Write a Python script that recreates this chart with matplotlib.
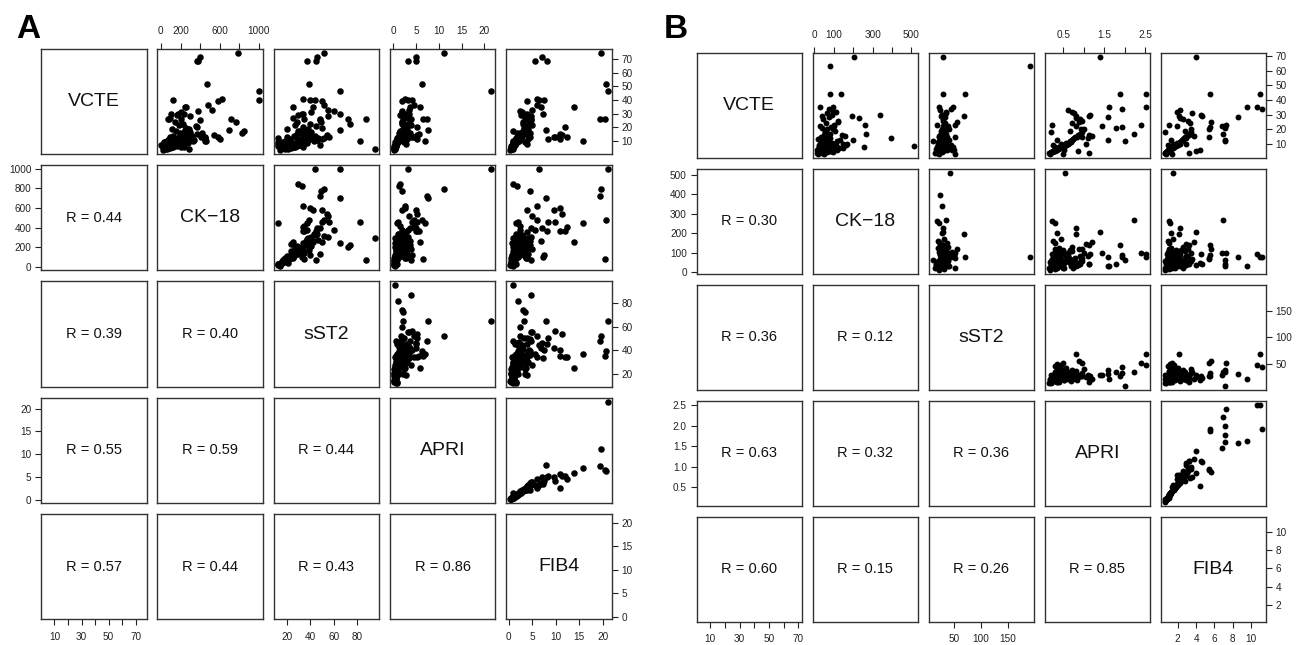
import matplotlib
matplotlib.use("Agg")
import matplotlib.pyplot as plt
import numpy as np

plt.rcParams['font.family'] = ['Liberation Sans', 'DejaVu Sans']

W, H = 1298, 645
nan = np.nan

names = ['VCTE', 'CK\u221218', 'sST2', 'APRI', 'FIB4']

# ---------------- panel A data (one entry per patient) ----------------
vcte_a = [47, 52, 75, 69, 72, 69, 40, 41, 40, 35, 26, 26, 17, 16, 24, 13, 11, 13, 4, 26,
          10, 18, 14, 15, 20, 10, 13, 11, 30, 33, 36, 39, 26, 22, 12, 35, 32, 30,
          5.2, 6.1, 4.3, 7.5, 8.8, 9.5, 3.0, 11.2, 12.5, 6.8,
          14.0, 5.5, 7.9, 10.4, 4.8, 16.5, 8.2, 6.4, 9.1, 13.3,
          5.9, 7.1, 18.2, 10.9, 4.1, 12.0, 8.6, 6.0, 15.4, 9.8,
          5.0, 7.3, 11.8, 20.5, 6.6, 8.0, 4.5, 13.8, 9.3, 5.7,
          22.4, 7.7, 10.1, 3.9, 12.9, 6.9, 17.3, 8.4, 5.3, 11.5,
          19.0, 7.0, 9.6, 14.7, 6.2, 10.6, 4.7, 25.0, 8.9, 13.0,
          21.5, 16.0, 11.0, 7.6, 28.0, 9.0, 6.3, 12.2, 18.8, 5.1,
          30.0, 23.5, 27.0, 8.7, 15.9, 10.3, 6.7, 19.6, 31.0, 29.0]
ck18_a = [1000, 475, 790, 380, 395, 370, 1000, 620, 120, 250, 720, 80, 845, 830, 770, 410, 600, 580, 290, 70,
          460, 700, 540, 370, 370, 450, 455, 455, 100, 520, 480, 580, 200, 220, 450, 260, 380, 240,
          45, 80, 30, 120, 150, 60, 20, 210, 180, 95,
          260, 110, 70, 140, 55, 300, 230, 160, 40, 320,
          15, 190, 250, 85, 65, 270, 130, 35, 195, 105,
          240, 25, 170, 360, 75, 280, 90, 125, 205, 50,
          230, 145, 330, 40, 95, 185, 155, 60, 125, 250,
          290, 3, 175, 215, 100, 340, 70, 400, 115, 265,
          180, 225, 135, 85, 300, 160, 45, 310, 110, 200,
          170, 140, 90, 30, 420, 70, 130, 255, 210, 160]
sst2_a = [65, 39, 52, 37, 46, 45, 44, 34, 40, 25, 48, 35, 30, 33, 49, 34, 40, 42, 95, 87,
          82, 65, 54, 35, 34, 37, 56, 50, 33, 55, 52, 50, 72, 74, 12.3, 42, 60, 65,
          18, 22, 15, 25, 30, 19, 14, 35, 28, 21,
          38, 26, 17, 33, 20, 41, 24, 29, 16, 44,
          13, 31, 36, 23, 19, 47, 27, 15, 32, 22,
          34, 12.3, 39, 45, 18, 37, 24, 26, 30, 17,
          40, 35, 43, 21, 20, 28, 31, 16, 25, 42,
          38, 14, 33, 29, 23, 46, 18, 48, 22, 36,
          27, 39, 30, 19, 55, 24, 16, 52, 20, 27,
          34, 29, 25, 13, 35, 45, 48, 50, 41, 30]
apri_a = [21.6, 6.2, 11.2, 3.3, 4.9, 4.9, 3.2, 2.5, 4.0, 5.8, 7.5, 6.5, 1.5, 1.3, 2.0, 4.6, 2.6, 5.0, 0.45, 3.8,
          1.0, 7.7, 5.1, 5.6, 5.1, 7.0, 4.0, 5.2, 3.4, 3.5, 4.5, 2.0, 2.2, 1.8, 0.8, 3.6, 1.8, 2.1,
          0.3, 0.4, 0.2, 0.6, 0.8, 0.5, 0.1, 1.2, 1.0, 0.45,
          1.6, 0.35, 0.55, 0.9, 0.25, 2.1, 0.7, 0.5, 0.4, 1.9,
          0.2, 0.65, 2.4, 0.85, 0.3, 1.4, 0.75, 0.3, 1.7, 0.95,
          0.4, 0.5, 1.3, 2.8, 0.45, 0.9, 0.25, 1.5, 1.1, 0.35,
          3.2, 0.6, 1.35, 0.2, 1.2, 0.55, 2.0, 0.65, 0.3, 1.8,
          3.0, 0.4, 0.8, 2.5, 0.5, 1.0, 0.25, 3.6, 0.7, 3.4,
          3.9, 3.7, 3.1, 2.7, 3.3, 2.3, 0.6, 1.6, 2.2, 0.45,
          2.9, 1.9, 2.6, 0.8, 1.4, 0.7, 0.5, 2.3, 2.0, 1.5]
fib4_a = [21.1, 20.8, 19.7, 5.5, 7.0, 8.1, 6.5, 6.0, 7.5, 13.8, 19.5, 20.6, 1.0, 1.8, 4.5, 12.4, 11.0, 9.6, 0.9, 4.8,
          2.0, 7.9, 11.3, 10.9, 12.0, 15.9, 9.8, 8.4, 7.4, 5.0, 6.0, 4.0, 3.5, 3.0, 1.5, 6.8, 2.5, 3.2,
          0.6, 0.9, 0.5, 1.1, 1.4, 1.0, 0.3, 1.9, 1.7, 0.8,
          2.4, 0.7, 1.2, 1.6, 0.55, 3.0, 1.3, 0.95, 0.85, 2.8,
          0.45, 1.25, 3.3, 1.5, 0.65, 2.2, 1.35, 0.6, 2.6, 1.75,
          0.8, 1.0, 2.0, 3.9, 0.9, 1.5, 0.5, 2.3, 1.8, 0.75,
          4.4, 1.15, 2.1, 0.5, 2.0, 1.05, 3.1, 1.2, 0.7, 2.7,
          4.1, 0.85, 1.45, 3.6, 0.95, 1.6, 0.6, 4.8, 1.3, 4.6,
          4.9, 4.5, 4.2, 3.8, 4.7, 3.4, 1.1, 2.5, 3.5, 0.9,
          4.0, 3.0, 3.7, 1.6, 2.4, 1.4, 1.0, 3.2, 2.9, 2.6]
r_a = {(1, 0): '0.44', (2, 0): '0.39', (2, 1): '0.40', (3, 0): '0.55', (3, 1): '0.59',
       (3, 2): '0.44', (4, 0): '0.57', (4, 1): '0.44', (4, 2): '0.43', (4, 3): '0.86'}

# ---------------- panel B data ----------------
vcte_b = [69.6, 63, 43.8, 43.8, 35, 35, 34, 29.6, 14, 8.5,
          17, 27.4, 23, 29, 23, 12, 21, 21.5, 12.5, 28.5,
          22.5, 32, 30, 29, 8, 9, 10, 4, 15, 18,
          3.3, 25, 20, 6, 5, 14, 16,
          4.5, 6.0, 5.2, 7.8, 3.8, 9.5, 5.5, 11.0, 6.8, 8.2,
          4.2, 13.0, 7.0, 5.8, 9.0, 3.3, 10.2, 6.3, 14.5, 8.7,
          5.0, 7.3, 12.0, 4.8, 9.8, 6.6, 16.0, 5.3, 8.0, 11.5,
          7.6, 4.0, 10.6, 6.1, 13.8, 5.7, 9.2, 7.1, 18.0, 4.6,
          8.4, 12.5, 6.4, 9.9, 5.6, 15.0, 7.4, 4.4, 10.8, 6.9,
          20.0, 5.9, 8.9, 11.3, 6.2, 13.5, 7.9, 4.9, 16.8, 9.4,
          5.4, 24.0, 19.0, 27.0, 33.0, 22.0, 26.0, 31.0, 15.5, 10.0,
          12.8, 7.2]
ck18_b = [205, 79, 138, 79, 30, 95, 75, 340, 394, 512,
          268, 229, 260, 193, 100, 60, 40, 85, 30, 75,
          100, 110, 90, 40, 253, 160, 145, 40, 70, 55,
          18, 120, 65, 45, 35, 80, 140,
          35, 60, 90, 45, 20, 110, 75, 55, 30, 95,
          65, 40, 125, 15, 80, 50, 100, 38, 70, 25,
          85, 58, 115, 42, 68, 105, 48, 28, 88, 33,
          72, 11, 92, 52, 62, 118, 22, 78, 55, 95,
          40, 130, 18, 66, 102, 36, 84, 46, 74, 26,
          98, 56, 112, 44, 88, 20, 64, 32, 82, 50,
          76, 60, 108, 42, 88, 30, 120, 66, 155, 170,
          200, 148]
sst2_b = [30, 191, 29, 70, 22, 48, 45, 27, 24.5, 41.6,
          35, 30, 18, 69, 52, 10, 35, 33, 40, 32,
          30, 34, 28, 25, 22, 20, 26, 18, 52, 30,
          52, 56, 28, 20, 26, 30, 24,
          20, 25, 30, 18, 15, 33, 28, 22, 35, 40,
          24, 27, 19, 31, 44, 21, 26, 17, 36, 23,
          29, 38, 25, 16, 32, 21, 30, 26, 48, 19,
          34, 22, 27, 37, 24, 29, 20, 42, 33, 23,
          28, 39, 18, 25, 46, 21, 31, 27, 35, 24,
          41, 19, 30, 26, 50, 23, 36, 20, 28, 34,
          25, 32, 26, 30, 24, 38, 29, 35, 22, 31,
          27, 36]
apri_b = [1.39, nan, 1.88, 2.52, 1.62, 2.51, 1.92, nan, nan, 0.54,
          2.22, 0.8, 0.23, 0.8, 2.4, 2.0, 1.78, 1.92, 1.6, 1.58,
          1.45, 0.7, 1.15, 1.12, 0.3, 0.25, 1.04, 1.13, 0.95, 0.2,
          0.5, 0.87, 0.93, 0.52, 0.85, 1.1, 1.13,
          0.2, 0.3, 0.25, 0.4, 0.14, 0.5, 0.28, 0.6, 0.35, 0.45,
          0.22, 0.7, 0.38, 0.3, 0.55, 0.18, 0.62, 0.33, 0.78, 0.48,
          0.26, 0.42, 0.65, 0.2, 0.58, 0.36, 0.85, 0.27, 0.44, 0.68,
          0.4, 0.16, 0.57, 0.31, 0.75, 0.29, 0.52, 0.39, 0.95, 0.23,
          0.47, 0.72, 0.34, 0.6, 0.28, 0.82, 0.41, 0.21, 0.63, 0.37,
          1.0, 0.32, 0.5, 0.66, 0.35, 0.74, 0.46, 0.24, 0.9, 0.54,
          0.27, 0.72, 0.66, 0.9, 0.6, 0.8, 0.96, 0.75, 1.2, 0.45,
          0.35, 0.3]
fib4_b = [3.99, nan, 5.55, 11.0, 9.55, 10.6, 11.2, nan, nan, 1.5,
          6.98, 2.3, 1.07, 2.1, 7.3, 7.1, 7.1, 5.5, 7.1, 8.6,
          6.8, 1.87, 4.5, 4.7, 1.2, 0.9, 2.9, 3.2, 5.4, 0.6,
          1.4, 5.6, 5.4, 4.4, 4.0, 2.9, 3.2,
          0.8, 1.1, 0.9, 1.4, 0.65, 1.8, 1.0, 2.1, 1.2, 1.6,
          0.85, 2.5, 1.3, 1.05, 2.0, 0.7, 2.3, 1.15, 2.8, 1.7,
          0.95, 1.45, 2.4, 0.75, 1.95, 1.25, 3.0, 0.9, 1.55, 2.2,
          1.35, 0.6, 1.9, 1.08, 2.7, 1.02, 1.75, 1.3, 3.4, 0.8,
          1.65, 2.6, 1.18, 2.05, 0.98, 2.9, 1.4, 0.78, 2.15, 1.22,
          3.5, 1.1, 1.85, 2.3, 1.2, 2.55, 1.6, 0.88, 3.1, 1.9,
          0.92, 3.3, 2.8, 2.6, 2.2, 1.9, 3.1, 3.6, 3.8, 1.5,
          1.3, 1.0]
r_b = {(1, 0): '0.30', (2, 0): '0.36', (2, 1): '0.12', (3, 0): '0.63', (3, 1): '0.32',
       (3, 2): '0.36', (4, 0): '0.60', (4, 1): '0.15', (4, 2): '0.26', (4, 3): '0.85'}

# tick values and labels per variable (blank = tick without label, as R drops overlapping labels)
ticks_a = [
    ([10, 20, 30, 40, 50, 60, 70], ['10', '20', '30', '40', '50', '60', '70'], ['10', '', '30', '', '50', '', '70']),
    ([0, 200, 400, 600, 800, 1000], ['0', '200', '400', '600', '800', '1000'], ['0', '200', '', '600', '', '1000']),
    ([20, 40, 60, 80], ['20', '40', '60', '80'], ['20', '40', '60', '80']),
    ([0, 5, 10, 15, 20], ['0', '5', '10', '15', '20'], ['0', '5', '10', '15', '20']),
    ([0, 5, 10, 15, 20], ['0', '5', '10', '15', '20'], ['0', '5', '10', '15', '20']),
]
ticks_b = [
    ([10, 20, 30, 40, 50, 60, 70], ['10', '20', '30', '40', '50', '60', '70'], ['10', '', '30', '', '50', '', '70']),
    ([0, 100, 200, 300, 400, 500], ['0', '100', '200', '300', '400', '500'], ['0', '100', '', '300', '', '500']),
    ([50, 100, 150], ['50', '100', '150'], ['50', '100', '150']),
    ([0.5, 1.0, 1.5, 2.0, 2.5], ['0.5', '1.0', '1.5', '2.0', '2.5'], ['0.5', '', '1.5', '', '2.5']),
    ([2, 4, 6, 8, 10], ['2', '4', '6', '8', '10'], ['2', '4', '6', '8', '10']),
]

fig = plt.figure(figsize=(W / 100, H / 100), dpi=100)
fig.patch.set_facecolor('white')


def lim(v):
    v = np.asarray(v, dtype=float)
    lo, hi = np.nanmin(v), np.nanmax(v)
    pad = 0.04 * (hi - lo)
    return lo - pad, hi + pad


def pairs(data, rvals, ticks, x0, y0, pitch_x, pitch_y, cw, ch, msize):
    n = len(data)
    lims = [lim(v) for v in data]
    for i in range(n):
        for j in range(n):
            left = x0 + j * pitch_x
            top = y0 + i * pitch_y
            ax = fig.add_axes([left / W, 1 - (top + ch) / H, cw / W, ch / H])
            ax.set_xlim(lims[j])
            ax.set_ylim(lims[i])
            for s in ax.spines.values():
                s.set_color('#333333')
                s.set_linewidth(1.0)
            ax.tick_params(which='both', direction='out', length=4, width=0.8,
                           colors='#222222', labelsize=7.2)
            ax.set_xticks([])
            ax.set_yticks([])
            if i < j:
                ax.scatter(data[j], data[i], s=msize, c='black', linewidths=0)
            elif i > j:
                ax.text(0.5, 0.5, 'R = ' + rvals[(i, j)], transform=ax.transAxes,
                        ha='center', va='center', fontsize=10.5, color='#111111')
            else:
                ax.text(0.5, 0.5, names[i], transform=ax.transAxes,
                        ha='center', va='center', fontsize=14, color='#111111')
            # outer axes, alternating as in R pairs()
            if i == 0 and j % 2 == 1:
                ax.set_xticks(ticks[j][0])
                ax.set_xticklabels(ticks[j][2])
                ax.xaxis.tick_top()
                ax.tick_params(axis='x', pad=5)
            if i == n - 1 and j % 2 == 0:
                ax.set_xticks(ticks[j][0])
                ax.set_xticklabels(ticks[j][2])
                ax.tick_params(axis='x', pad=5)
            if j == 0 and i % 2 == 1:
                ax.set_yticks(ticks[i][0])
                ax.set_yticklabels(ticks[i][1])
                ax.tick_params(axis='y', pad=3)
            if j == n - 1 and i % 2 == 0:
                ax.set_yticks(ticks[i][0])
                ax.set_yticklabels(ticks[i][1])
                ax.yaxis.tick_right()
                ax.tick_params(axis='y', pad=3)


pairs([vcte_a, ck18_a, sst2_a, apri_a, fib4_a], r_a, ticks_a,
      41, 48.7, 116.3, 116.3, 105.5, 105.4, 22)
pairs([vcte_b, ck18_b, sst2_b, apri_b, fib4_b], r_b, ticks_b,
      696.6, 52.7, 116.1, 116.0, 105.0, 105.0, 18)

fig.text(16 / W, 1 - 38 / H, 'A', fontsize=24, fontweight='bold', va='baseline', ha='left')
fig.text(664 / W, 1 - 38 / H, 'B', fontsize=24, fontweight='bold', va='baseline', ha='left')

fig.savefig('out.png', dpi=100, facecolor='white')
